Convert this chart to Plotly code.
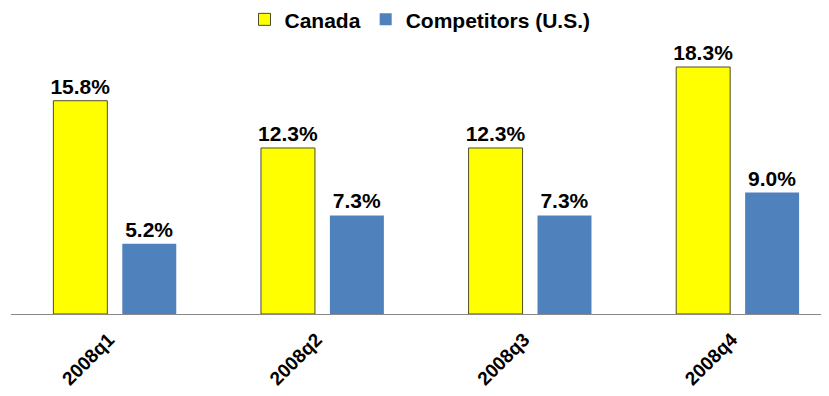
import plotly.graph_objects as go

quarters = ["2008q1", "2008q2", "2008q3", "2008q4"]
canada = [15.8, 12.3, 12.3, 18.3]
competitors = [5.2, 7.3, 7.3, 9.0]
series_names = ["Canada", "Competitors (U.S.)"]

FONT = "Liberation Sans, Arial, sans-serif"

fig = go.Figure()
fig.add_trace(go.Bar(
    x=quarters, y=canada, name=series_names[0],
    marker=dict(color="#FFFF00", line=dict(color="#4d4d2a", width=1)),
    text=[f"{v:.1f}%" for v in canada], textposition="outside",
    constraintext="none",
    textfont=dict(family=FONT, size=21, color="black", weight="bold"),
    cliponaxis=False,
))
fig.add_trace(go.Bar(
    x=quarters, y=competitors, name=series_names[1],
    marker=dict(color="#4F81BD", line=dict(width=0)),
    text=[f"{v:.1f}%" for v in competitors], textposition="outside",
    constraintext="none",
    textfont=dict(family=FONT, size=21, color="black", weight="bold"),
    cliponaxis=False,
))

fig.update_layout(
    width=821, height=388,
    margin=dict(l=3, r=0, t=32, b=82, autoexpand=False),
    paper_bgcolor="white", plot_bgcolor="white",
    barmode="group", bargap=0.336, bargroupgap=0.217,
    showlegend=True,
    legend=dict(orientation="h", x=0.5, xanchor="center", y=1.074, yanchor="middle",
                yref="paper", bgcolor="rgba(0,0,0,0)",
                font=dict(family=FONT, size=21, color="black", weight="bold"),
                tracegroupgap=0),
    xaxis=dict(range=[-0.5, 3.44], showline=True, linecolor="#888888", linewidth=1,
               ticks="", tickangle=-45, automargin=False,
               ticklabelshift=-6, ticklabelstandoff=6,
               tickfont=dict(family=FONT, size=19, color="black", weight="bold"),
               showgrid=False, zeroline=False, fixedrange=True),
    yaxis=dict(range=[0, 20.3], visible=False, showgrid=False, zeroline=False,
               automargin=False),
)

fig.write_html("out.html")
